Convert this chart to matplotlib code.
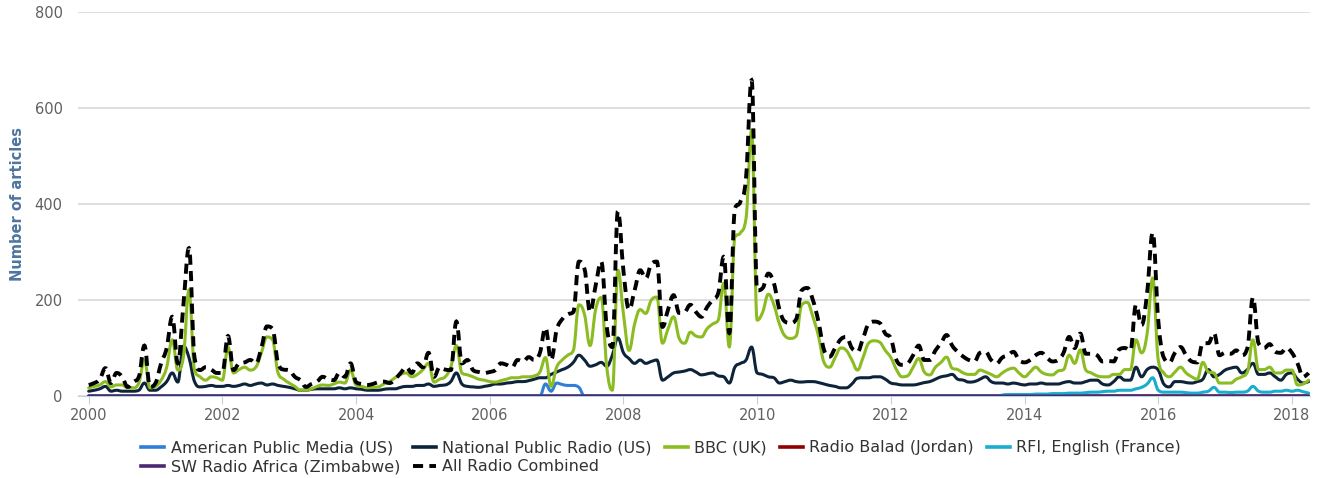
import numpy as np
import matplotlib
matplotlib.use("Agg")
import matplotlib.pyplot as plt
from matplotlib.path import Path
from matplotlib.patches import PathPatch
from matplotlib.lines import Line2D

plt.rcParams['font.family'] = ['DejaVu Sans']

start_year = 2000
year_ticks = list(range(2000, 2019, 2))
y_ticks = [0, 200, 400, 600, 800]

# Monthly values, Jan 2000 .. Apr 2018
all_combined = (
    [23, 27, 35, 58, 27, 48, 40, 19, 29, 40, 105, 19] +          # 2000
    [27, 68, 100, 165, 68, 190, 308, 80, 54, 60, 55, 48] +       # 2001
    [48, 125, 54, 68, 70, 75, 68, 100, 145, 140, 68, 55] +       # 2002
    [54, 40, 33, 19, 25, 30, 40, 35, 33, 48, 40, 68] +           # 2003
    [29, 25, 23, 25, 29, 30, 27, 35, 48, 60, 48, 68] +           # 2004
    [60, 90, 40, 60, 55, 54, 155, 68, 75, 54, 50, 48] +          # 2005
    [50, 54, 68, 65, 60, 75, 72, 81, 75, 90, 142, 75] +          # 2006
    [137, 160, 170, 175, 280, 265, 175, 230, 280, 144, 102, 385] +  # 2007
    [260, 180, 220, 262, 245, 275, 280, 144, 180, 210, 173, 175] +  # 2008
    [190, 175, 165, 185, 200, 214, 290, 131, 390, 405, 455, 658] +  # 2009
    [220, 225, 255, 235, 180, 155, 152, 160, 220, 225, 200, 155] +  # 2010
    [96, 82, 100, 118, 123, 100, 92, 120, 150, 155, 152, 130] +  # 2011
    [120, 75, 65, 68, 85, 105, 75, 75, 95, 110, 127, 105] +      # 2012
    [92, 82, 75, 72, 90, 92, 75, 68, 80, 85, 92, 75] +           # 2013
    [70, 75, 85, 90, 80, 72, 75, 90, 123, 100, 130, 88] +        # 2014
    [88, 85, 72, 73, 72, 97, 100, 95, 190, 148, 215, 340] +      # 2015
    [158, 80, 70, 90, 102, 85, 72, 70, 110, 110, 131, 85] +      # 2016
    [90, 88, 95, 85, 100, 205, 110, 100, 108, 92, 90, 100] +     # 2017
    [90, 68, 40, 48]                                             # 2018
)

bbc = (
    [17, 20, 23, 30, 19, 23, 23, 17, 17, 27, 75, 17] +
    [20, 33, 60, 117, 54, 81, 221, 54, 40, 33, 40, 38] +
    [33, 102, 48, 55, 60, 54, 60, 90, 123, 117, 48, 35] +
    [27, 20, 12, 12, 15, 20, 23, 22, 25, 29, 27, 54] +
    [23, 20, 17, 18, 19, 25, 30, 38, 45, 48, 40, 45] +
    [55, 68, 29, 35, 40, 60, 105, 48, 44, 40, 35, 33] +
    [30, 29, 32, 35, 38, 38, 40, 40, 42, 50, 80, 20] +
    [60, 75, 85, 95, 190, 170, 105, 180, 205, 60, 12, 262] +
    [170, 95, 150, 180, 172, 200, 206, 110, 140, 165, 120, 110] +
    [133, 125, 123, 140, 150, 158, 235, 102, 331, 340, 370, 554] +
    [158, 175, 212, 190, 150, 125, 120, 125, 190, 195, 165, 125] +
    [70, 60, 80, 100, 95, 75, 54, 80, 110, 115, 112, 95] +
    [80, 55, 40, 42, 60, 78, 50, 44, 60, 70, 81, 58] +
    [55, 48, 45, 45, 54, 50, 45, 40, 48, 55, 58, 48] +
    [40, 50, 60, 50, 45, 44, 52, 55, 85, 68, 96, 54] +
    [48, 42, 40, 40, 45, 45, 55, 55, 117, 90, 130, 246] +
    [75, 48, 40, 50, 60, 48, 40, 35, 70, 50, 48, 27] +
    [27, 27, 35, 40, 50, 117, 55, 55, 60, 48, 48, 54] +
    [54, 23, 25, 33]
)

npr = (
    [10, 12, 15, 20, 10, 12, 10, 10, 10, 12, 27, 12] +
    [12, 19, 30, 48, 29, 104, 80, 30, 19, 20, 22, 20] +
    [20, 22, 20, 22, 25, 22, 25, 27, 23, 25, 22, 20] +
    [18, 15, 12, 12, 14, 15, 15, 15, 15, 17, 15, 17] +
    [15, 14, 12, 12, 12, 14, 15, 15, 18, 20, 20, 22] +
    [22, 25, 20, 22, 23, 30, 48, 25, 20, 19, 18, 20] +
    [22, 25, 25, 27, 28, 30, 30, 32, 35, 38, 38, 45] +
    [50, 55, 60, 70, 85, 75, 62, 65, 70, 62, 85, 121] +
    [90, 78, 68, 75, 68, 72, 75, 33, 40, 48, 50, 52] +
    [55, 50, 44, 46, 48, 42, 40, 27, 60, 68, 75, 102] +
    [48, 45, 40, 38, 27, 30, 33, 30, 29, 30, 30, 28] +
    [25, 22, 20, 17, 17, 25, 37, 38, 38, 40, 40, 35] +
    [27, 25, 23, 23, 23, 25, 28, 30, 35, 40, 42, 45] +
    [35, 33, 29, 30, 35, 40, 30, 27, 27, 25, 27, 25] +
    [23, 25, 25, 27, 25, 25, 25, 28, 30, 27, 27, 30] +
    [33, 33, 25, 23, 30, 40, 33, 33, 60, 40, 55, 60] +
    [54, 25, 19, 30, 30, 28, 27, 30, 35, 55, 40, 45] +
    [54, 58, 60, 48, 55, 68, 45, 45, 48, 40, 33, 45] +
    [48, 35, 27, 30]
)

american_public_media = (
    [0] * 12 * 6 +
    [0, 0, 0, 0, 0, 0, 0, 0, 0, 0, 25, 10] +     # 2006
    [27, 24, 22, 22, 18, 0, 0, 0, 0, 0, 0, 0] +  # 2007
    [0] * 12 * 10 +
    [0, 0, 0, 0]
)

rfi_english = (
    [0] * 12 * 13 +
    [0, 0, 0, 0, 0, 0, 0, 0, 2, 3, 3, 3] +           # 2013
    [3, 3, 4, 4, 4, 5, 5, 5, 6, 6, 6, 7] +           # 2014
    [8, 8, 9, 10, 10, 12, 12, 12, 15, 18, 25, 38] +  # 2015
    [12, 8, 8, 8, 8, 7, 6, 6, 8, 10, 18, 8] +        # 2016
    [8, 7, 8, 8, 10, 20, 10, 8, 8, 10, 10, 12] +     # 2017
    [10, 12, 9, 6]                                   # 2018
)

n_months = len(all_combined)
radio_balad = [0] * n_months
sw_radio_africa = [0] * n_months

t = start_year + np.arange(n_months) / 12.0


def spline_path(xs, ys, smoothing=1.5):
    """Smooth curve through every data point (Highcharts-style spline)."""
    xs = np.asarray(xs, float)
    ys = np.asarray(ys, float)
    n = len(xs)
    denom = smoothing + 1
    rcx = xs.copy()
    rcy = ys.copy()
    lcx = xs.copy()
    lcy = ys.copy()
    for i in range(1, n - 1):
        px, py = xs[i], ys[i]
        lx, ly = xs[i - 1], ys[i - 1]
        nx, ny = xs[i + 1], ys[i + 1]
        lcx_i = (smoothing * px + lx) / denom
        lcy_i = (smoothing * py + ly) / denom
        rcx_i = (smoothing * px + nx) / denom
        rcy_i = (smoothing * py + ny) / denom
        corr = ((rcy_i - lcy_i) * (rcx_i - px)) / (rcx_i - lcx_i) + py - rcy_i
        lcy_i += corr
        rcy_i += corr
        if lcy_i > ly and lcy_i > py:
            lcy_i = max(ly, py)
            rcy_i = 2 * py - lcy_i
        elif lcy_i < ly and lcy_i < py:
            lcy_i = min(ly, py)
            rcy_i = 2 * py - lcy_i
        if rcy_i > ny and rcy_i > py:
            rcy_i = max(ny, py)
            lcy_i = 2 * py - rcy_i
        elif rcy_i < ny and rcy_i < py:
            rcy_i = min(ny, py)
            lcy_i = 2 * py - rcy_i
        lcx[i], lcy[i], rcx[i], rcy[i] = lcx_i, lcy_i, rcx_i, rcy_i
    verts = [(xs[0], ys[0])]
    codes = [Path.MOVETO]
    for i in range(1, n):
        verts += [(rcx[i - 1], rcy[i - 1]), (lcx[i], lcy[i]), (xs[i], ys[i])]
        codes += [Path.CURVE4] * 3
    return Path(verts, codes)


fig = plt.figure(figsize=(13.18, 4.78), dpi=100)
ax = fig.add_axes([78 / 1318, 1 - 396 / 478, (1310 - 78) / 1318, (396 - 12) / 478])

series = [
    ("American Public Media (US)", american_public_media, "#2f7ed8"),
    ("National Public Radio (US)", npr, "#0d233a"),
    ("BBC (UK)", bbc, "#8bbc21"),
    ("Radio Balad (Jordan)", radio_balad, "#910000"),
    ("RFI, English (France)", rfi_english, "#1aadce"),
    ("SW Radio Africa (Zimbabwe)", sw_radio_africa, "#492970"),
]
handles = {}
for name, vals, col in series:
    ax.add_patch(PathPatch(spline_path(t, vals), fill=False, edgecolor=col, lw=2.2,
                           joinstyle="round", capstyle="round", zorder=3))
    handles[name] = Line2D([], [], color=col, lw=2.6)
comb_style = (0, (2.6, 1.6))
ax.add_patch(PathPatch(spline_path(t, all_combined), fill=False, edgecolor="black",
                       lw=2.8, linestyle=comb_style, zorder=4))
handles["All Radio Combined"] = Line2D([], [], color="black", lw=2.8, ls=comb_style)

ax.set_xlim(1999.84, 2018.27)
ax.set_ylim(0, 800)
ax.set_yticks(y_ticks)
ax.set_xticks(year_ticks)
ax.set_xticklabels([str(y) for y in year_ticks])
ax.grid(axis="y", color="#d8d8d8", lw=1.2)
ax.set_axisbelow(True)
for s in ["top", "right", "left"]:
    ax.spines[s].set_visible(False)
ax.spines["bottom"].set_color("#C0D0E0")
ax.tick_params(axis="x", direction="out", length=6, color="#C0D0E0",
               labelcolor="#606060", labelsize=10.5, pad=3)
ax.tick_params(axis="y", length=0, labelcolor="#606060", labelsize=10.5, pad=11)
ax.set_ylabel("Number of articles", color="#4d759e", fontsize=10.5,
              fontweight="bold", labelpad=7)

blank = Line2D([], [], alpha=0)
order = ["American Public Media (US)", "SW Radio Africa (Zimbabwe)",
         "National Public Radio (US)", "All Radio Combined",
         "BBC (UK)", None, "Radio Balad (Jordan)", None,
         "RFI, English (France)", None]
leg_handles = [handles[k] if k else blank for k in order]
leg_labels = [k if k else "" for k in order]
leg = fig.legend(leg_handles, leg_labels, loc="center", bbox_to_anchor=(0.5015, 0.043),
                 ncol=5, frameon=False, fontsize=11.5, handlelength=1.45,
                 handletextpad=0.4, columnspacing=0.8, labelspacing=0.25,
                 borderaxespad=0)
for txt in leg.get_texts():
    txt.set_color("#333333")

fig.savefig("out.png", dpi=100)
